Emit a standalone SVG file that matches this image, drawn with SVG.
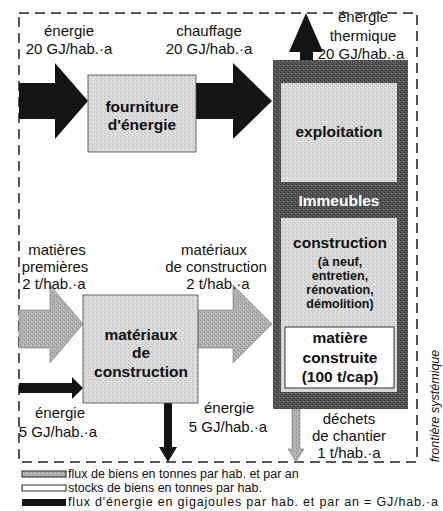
<svg xmlns="http://www.w3.org/2000/svg" width="443" height="511" viewBox="0 0 443 511">
<style>
text{font-family:"Liberation Sans",Arial,sans-serif;fill:#111;}
.lbl{font-size:15px;text-anchor:middle;}
.bold{font-size:15.5px;font-weight:bold;text-anchor:middle;}
.small{font-size:12.5px;font-weight:bold;text-anchor:middle;}
.leg{font-size:12.5px;}
.light{fill:url(#pLight);}
.gray{fill:url(#pGray);}
.dark{fill:url(#pDark);}
.black{fill:#141414;}
.frame{fill:none;stroke:#222;stroke-width:1.5;stroke-dasharray:10 6;}
</style>
<defs>
<pattern id="pLight" width="4" height="4" patternUnits="userSpaceOnUse">
<rect width="4" height="4" fill="#dadada"/>
<rect x="0" y="0" width="1" height="1" fill="#b8b8b8"/>
<rect x="2" y="2" width="1" height="1" fill="#c4c4c4"/>
<rect x="3" y="1" width="1" height="1" fill="#eeeeee"/>
</pattern>
<pattern id="pGray" width="4" height="4" patternUnits="userSpaceOnUse">
<rect width="4" height="4" fill="#b2b2b2"/>
<rect x="0" y="0" width="1" height="1" fill="#8a8a8a"/>
<rect x="2" y="2" width="1" height="1" fill="#909090"/>
<rect x="3" y="1" width="1" height="1" fill="#d0d0d0"/>
</pattern>
<pattern id="pDark" width="4" height="4" patternUnits="userSpaceOnUse">
<rect width="4" height="4" fill="#555555"/>
<rect x="0" y="0" width="1" height="1" fill="#2e2e2e"/>
<rect x="2" y="2" width="1" height="1" fill="#333333"/>
<rect x="3" y="1" width="1" height="1" fill="#808080"/>
</pattern>
</defs>

<rect id="frontiere" class="frame" x="19" y="13" width="398" height="449"/>
<text transform="translate(439,406) rotate(-90)" style="font-size:12.5px;font-style:italic;text-anchor:middle">frontière systémique</text>

<g id="connectors">
<polygon class="black" points="19,83 55,83 55,63 88,101 55,139 55,119 19,119"/>
<polygon class="black" points="196,83 233,83 233,63 272,101 233,139 233,119 196,119"/>
<polygon class="black" points="300,61 300,52 289,52 306,13 323,52 313,52 313,61"/>
<polygon class="gray" stroke="#777" stroke-width="0.6" points="19,310 50,310 50,285 83,324 50,363 50,348 19,348"/>
<polygon class="gray" stroke="#777" stroke-width="0.6" points="198,310 233,310 233,285 272,324 233,363 233,348 198,348"/>
<polygon class="black" points="19,383 72,383 72,377 83,388 72,399 72,393 19,393"/>
<polygon class="black" points="164,403 172,403 172,447 177,447 168,462 159,447 164,447"/>
<polygon class="gray" stroke="#777" stroke-width="0.6" points="292,409 300,409 300,449 304,449 296,462 288,449 292,449"/>
</g>

<g id="labels">
<text class="lbl" x="69" y="36">énergie</text>
<text class="lbl" x="69" y="54">20 GJ/hab.·a</text>
<text class="lbl" x="209" y="36">chauffage</text>
<text class="lbl" x="209" y="54">20 GJ/hab.·a</text>
<text class="lbl" x="363" y="22">énergie</text>
<text class="lbl" x="363" y="41">thermique</text>
<text class="lbl" x="361" y="59">20 GJ/hab.·a</text>
<text class="lbl" x="57" y="255">matières</text>
<text class="lbl" x="55" y="272">premières</text>
<text class="lbl" x="54" y="289">2 t/hab.·a</text>
<text class="lbl" x="214" y="255">matériaux</text>
<text class="lbl" x="216" y="272">de construction</text>
<text class="lbl" x="218" y="289">2 t/hab.·a</text>
<text class="lbl" x="60" y="418">énergie</text>
<text class="lbl" x="58" y="437">5 GJ/hab.·a</text>
<text class="lbl" x="229" y="413">énergie</text>
<text class="lbl" x="228" y="432">5 GJ/hab.·a</text>
<text class="lbl" x="349" y="424">déchets</text>
<text class="lbl" x="349" y="441">de chantier</text>
<text class="lbl" x="349" y="458">1 t/hab.·a</text>
</g>

<g id="fourniture">
<rect class="light" x="88" y="75" width="108" height="77" stroke="#444" stroke-width="0.8"/>
<text class="bold" x="142" y="112">fourniture</text>
<text class="bold" x="142" y="130">d'énergie</text>
</g>

<g id="materiaux">
<rect class="light" x="83" y="295" width="115" height="108" stroke="#444" stroke-width="0.8"/>
<text class="bold" x="141" y="340">matériaux</text>
<text class="bold" x="141" y="358">de</text>
<text class="bold" x="141" y="377">construction</text>
</g>

<g id="immeubles">
<rect class="dark" x="273" y="60" width="135" height="349"/>
<text class="bold" x="339" y="206" style="fill:#fff">Immeubles</text>
</g>

<g id="exploitation">
<rect class="light" x="281" y="83" width="116" height="99"/>
<text class="bold" x="339" y="137">exploitation</text>
</g>

<g id="construction">
<rect class="light" x="281" y="218" width="116" height="174"/>
<text class="bold" x="340" y="248">construction</text>
<text class="small" x="340" y="266">(à neuf,</text>
<text class="small" x="340" y="280">entretien,</text>
<text class="small" x="340" y="294">rénovation,</text>
<text class="small" x="340" y="308">démolition)</text>
</g>

<g id="matiere-construite">
<rect x="285" y="327" width="109" height="61" fill="#fff" stroke="#333" stroke-width="1"/>
<text class="bold" x="340" y="343">matière</text>
<text class="bold" x="340" y="363">construite</text>
<text class="bold" x="340" y="382">(100 t/cap)</text>
</g>

<g id="legende">
<rect x="22" y="471" width="44" height="6" class="gray" stroke="#222" stroke-width="1"/>
<text class="leg" x="68" y="478">flux de biens en tonnes par hab. et par an</text>
<rect x="22" y="485" width="44" height="6" fill="#fff" stroke="#222" stroke-width="1"/>
<text class="leg" x="68" y="492">stocks de biens en tonnes par hab.</text>
<rect x="22" y="499" width="44" height="7" class="black"/>
<text class="leg" x="68" y="506" textLength="370" lengthAdjust="spacing">flux d'énergie en gigajoules par hab. et par an  = GJ/hab.·a</text>
</g>
</svg>
